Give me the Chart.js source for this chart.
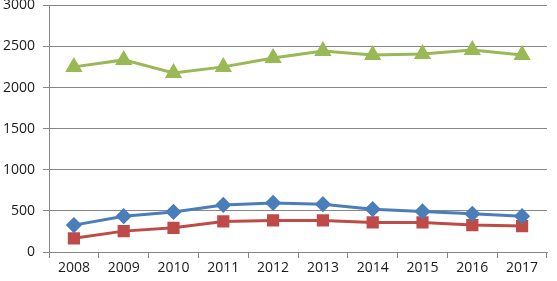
<!DOCTYPE html>
<html><head><meta charset="utf-8">
<script src="https://cdn.jsdelivr.net/npm/chart.js@4/dist/chart.umd.min.js"></script>
<style>html,body{margin:0;padding:0;background:#fff;overflow:hidden}#wrap{width:557px;height:281px;position:relative;overflow:hidden}canvas{position:absolute;left:0;top:-11px}</style>
</head><body><div id="wrap"><canvas id="c" width="557" height="292"></canvas></div>
<script>
const years = ['2008','2009','2010','2011','2012','2013','2014','2015','2016','2017'];
const blueSeries = [327,436,488,573,597,581,521,493,464,436];
const redSeries = [166,254,294,372,384,384,360,360,327,315];
const greenSeries = [2252,2337,2179,2252,2361,2446,2397,2409,2458,2397];
const yTicks = [0,500,1000,1500,2000,2500,3000];

const font = {family:'"Open Sans", "Liberation Sans", sans-serif', size:14};
new Chart(document.getElementById('c'), {
  type:'line',
  data:{labels:years, datasets:[
    {data:blueSeries, borderColor:'#4A7EBB', backgroundColor:'#4A7EBB', borderWidth:3, pointStyle:'rectRot', pointRadius:6, pointHoverRadius:6, tension:0},
    {data:redSeries, borderColor:'#BE4B48', backgroundColor:'#BE4B48', borderWidth:3, pointStyle:'rect', pointRadius:6.5, pointHoverRadius:6.5, tension:0},
    {data:greenSeries, borderColor:'#98B954', backgroundColor:'#98B954', borderWidth:3, pointStyle:'triangle', pointRadius:7, pointHoverRadius:7, tension:0}
  ]},
  options:{
    responsive:false, animation:false, devicePixelRatio:1,
    layout:{padding:{top:0,right:1,left:0,bottom:0}},
    plugins:{legend:{display:false}, tooltip:{enabled:false}},
    scales:{
      x:{offset:true,
        grid:{offset:true, drawOnChartArea:false, drawTicks:true, tickLength:6, color:'#868686'},
        border:{color:'#868686', width:1},
        ticks:{color:'#1a1a1a', font:font, padding:2, maxRotation:0},
        afterFit:(s)=>{s.height=29;}
      },
      y:{min:0,max:3000,
        afterBuildTicks:(s)=>{s.ticks=yTicks.map(v=>({value:v}));},
        grid:{color:'#868686', tickLength:6, lineWidth:1},
        border:{color:'#868686', width:1},
        ticks:{color:'#1a1a1a', font:font, padding:8, callback:(v)=>String(v)},
        afterFit:(s)=>{s.width=49;}
      }
    }
  }
});
</script></body></html>
